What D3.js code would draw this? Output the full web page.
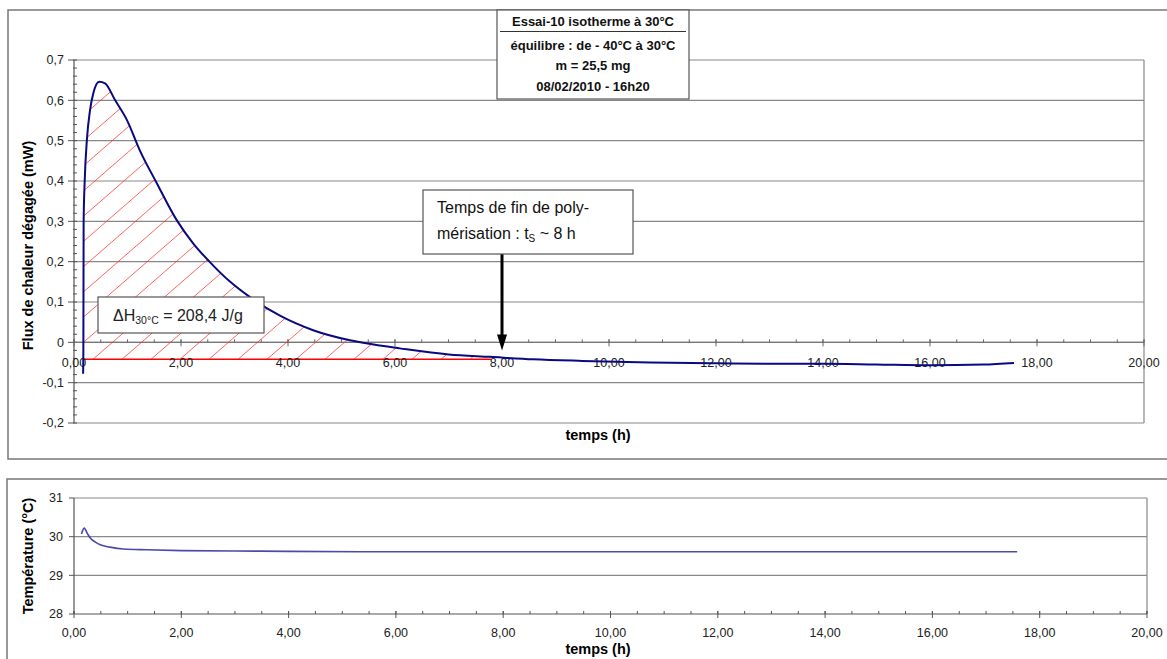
<!DOCTYPE html>
<html><head><meta charset="utf-8">
<script src="https://cdn.jsdelivr.net/npm/d3@7"></script>
<style>
body{margin:0;background:#fff;}
svg{display:block;font-family:"Liberation Sans",Arial,sans-serif;}
</style></head>
<body><svg id="c" width="1167" height="659"></svg>
<script>
// ---- data ----
const fluxTime  = [0.17,0.175,0.18,0.20,0.24,0.30,0.36,0.47,0.58,0.77,0.99,1.23,1.55,1.92,2.23,2.54,2.92,3.29,3.85,4.47,5.16,5.72,6.09,7.00,7.78,8.58,9.50,10.77,12.0,13.0,14.0,15.0,16.0,17.0,17.57];
const fluxValue = [-0.078,-0.02,0.30,0.40,0.50,0.576,0.617,0.646,0.642,0.600,0.551,0.476,0.394,0.303,0.245,0.199,0.150,0.112,0.066,0.030,0.005,-0.008,-0.015,-0.030,-0.036,-0.042,-0.046,-0.050,-0.052,-0.053,-0.053,-0.055,-0.057,-0.055,-0.051];
const tempTime  = [0.14,0.19,0.25,0.30,0.40,0.49,0.67,0.92,1.36,2.0,3.0,4.0,6.0,8.0,10.0,12.0,14.0,16.0,17.58];
const tempValue = [30.07,30.22,30.08,29.97,29.86,29.79,29.73,29.68,29.66,29.64,29.63,29.62,29.61,29.61,29.61,29.61,29.61,29.61,29.61];
const xTicks     = [0,2,4,6,8,10,12,14,16,18,20];
const fluxTicks  = [0.7,0.6,0.5,0.4,0.3,0.2,0.1,0,-0.1,-0.2];
const fluxLabels = ["0,7","0,6","0,5","0,4","0,3","0,2","0,1","0","-0,1","-0,2"];
const tempTicks  = [31,30,29,28];
const baselineValue = -0.042;
const integEnd = 7.8;
const titleLines = ["Essai-10 isotherme à 30°C","équilibre : de - 40°C à 30°C","m = 25,5 mg","08/02/2010 - 16h20"];

const loc = d3.formatLocale({decimal:",",thousands:" ",grouping:[3],currency:["","€"]});
const f2 = loc.format(".2f");

const svg = d3.select("#c");
const grid = "#888";
const frame = "#777";
const tickFont = 12.5;

// ---- frames ----
svg.append("rect").attr("x",8).attr("y",10).attr("width",1200).attr("height",449)
  .attr("fill","none").attr("stroke",frame).attr("stroke-width",1.5);
svg.append("rect").attr("x",7).attr("y",479).attr("width",1200).attr("height",300)
  .attr("fill","none").attr("stroke",frame).attr("stroke-width",1.5);

// ================= TOP CHART =================
const x1 = d3.scaleLinear([0,20],[74,1144]);
const y1 = d3.scaleLinear([-0.2,0.7],[423,60]);

const gTop = svg.append("g");
gTop.selectAll("line.g").data(fluxTicks).join("line")
  .attr("x1",x1(0)).attr("x2",x1(20)).attr("y1",d=>y1(d)).attr("y2",d=>y1(d))
  .attr("stroke",grid).attr("stroke-width",1.2);
gTop.append("line").attr("x1",x1(20)).attr("x2",x1(20)).attr("y1",y1(0.7)).attr("y2",y1(-0.2))
  .attr("stroke",grid).attr("stroke-width",1.2);

// y axis
gTop.append("line").attr("x1",x1(0)).attr("x2",x1(0)).attr("y1",y1(0.7)).attr("y2",y1(-0.2))
  .attr("stroke","#555").attr("stroke-width",1.2);
const yMinor = d3.range(-0.2,0.7001,0.02);
gTop.selectAll("line.ym").data(yMinor).join("line")
  .attr("x1",x1(0)-1).attr("x2",x1(0)+3).attr("y1",d=>y1(d)).attr("y2",d=>y1(d))
  .attr("stroke","#555");
gTop.selectAll("line.yM").data(fluxTicks).join("line")
  .attr("x1",x1(0)-6).attr("x2",x1(0)).attr("y1",d=>y1(d)).attr("y2",d=>y1(d))
  .attr("stroke","#555");
gTop.selectAll("text.yl").data(fluxTicks).join("text")
  .attr("x",x1(0)-10).attr("y",d=>y1(d)).attr("dy","0.35em")
  .attr("text-anchor","end").attr("font-size",tickFont).attr("fill","#222")
  .text((d,i)=>fluxLabels[i]);

// x axis at 0
gTop.append("line").attr("x1",x1(0)).attr("x2",x1(20)).attr("y1",y1(0)).attr("y2",y1(0))
  .attr("stroke","#777").attr("stroke-width",1.2);
const xMinor = d3.range(0,20.001,0.5);
gTop.selectAll("line.xm").data(xMinor).join("line")
  .attr("x1",d=>x1(d)).attr("x2",d=>x1(d)).attr("y1",y1(0)-3).attr("y2",y1(0))
  .attr("stroke","#666");
gTop.selectAll("line.xM").data(xTicks).join("line")
  .attr("x1",d=>x1(d)).attr("x2",d=>x1(d)).attr("y1",y1(0)-3).attr("y2",y1(0)+4)
  .attr("stroke","#666");

// hatched integration area
const pts = fluxTime.map((t,i)=>[t,fluxValue[i]]).filter(d=>d[0]<=integEnd);
const clipArea = d3.area().curve(d3.curveMonotoneX)
  .x(d=>x1(d[0])).y0(y1(baselineValue)).y1(d=>y1(Math.max(d[1],baselineValue)));
svg.append("defs").append("clipPath").attr("id","hclip")
  .append("path").attr("d",clipArea(pts));
const hg = gTop.append("g").attr("clip-path","url(#hclip)");
const by = y1(baselineValue);
const slope = 0.87, spacing = 29;
const starts = d3.range(x1(0)-400, x1(integEnd)+10, spacing).map(v=>v+13);
hg.selectAll("line").data(starts).join("line")
  .attr("x1",d=>d).attr("y1",by).attr("x2",d=>d+360).attr("y2",by-360*slope)
  .attr("stroke","#ff3030").attr("stroke-opacity",0.75).attr("stroke-width",1);
gTop.append("line").attr("x1",x1(fluxTime[0])).attr("x2",x1(integEnd))
  .attr("y1",by).attr("y2",by).attr("stroke","#ff0000").attr("stroke-width",1.5);

// x labels
gTop.selectAll("text.xl").data(xTicks).join("text")
  .attr("x",d=>x1(d)).attr("y",y1(0)+20).attr("dy","0.35em")
  .attr("text-anchor","middle").attr("font-size",tickFont).attr("fill","#222")
  .text(d=>f2(d));

// flux curve
const line1 = d3.line().curve(d3.curveMonotoneX).x((d,i)=>x1(fluxTime[i])).y(d=>y1(d));
gTop.append("path").attr("d",line1(fluxValue)).attr("fill","none")
  .attr("stroke","#0a0a80").attr("stroke-width",2);

// axis titles
gTop.append("text").attr("transform",`translate(33,${(y1(0.7)+y1(-0.2))/2+4}) rotate(-90)`)
  .attr("text-anchor","middle").attr("font-size",14.5).attr("font-weight","bold")
  .text("Flux de chaleur dégagée (mW)");
gTop.append("text").attr("x",598).attr("y",440).attr("text-anchor","middle")
  .attr("font-size",14.5).attr("font-weight","bold").text("temps (h)");

// title box
const tb = gTop.append("g");
tb.append("rect").attr("x",497).attr("y",10).attr("width",192).attr("height",89)
  .attr("fill","#fff").attr("stroke","#555").attr("stroke-width",1.2);
const tY = [26,50,70,91];
titleLines.forEach((s,i)=>{
  tb.append("text").attr("x",593).attr("y",tY[i]).attr("text-anchor","middle")
    .attr("font-size",13).attr("font-weight","bold").attr("fill","#111")
    .text(s);
});
tb.append("line").attr("x1",500).attr("x2",686).attr("y1",31.5).attr("y2",31.5).attr("stroke","#333").attr("stroke-width",1);

// annotation box + arrow
const ay = y1(-0.015);
gTop.append("line").attr("x1",x1(8)).attr("x2",x1(8)).attr("y1",254).attr("y2",ay-4)
  .attr("stroke","#000").attr("stroke-width",3);
gTop.append("path").attr("d",`M${x1(8)-5},${ay-14}L${x1(8)+5},${ay-14}L${x1(8)},${ay+2}Z`)
  .attr("fill","#000");
gTop.append("rect").attr("x",423).attr("y",190).attr("width",210).attr("height",64)
  .attr("fill","#fff").attr("stroke","#555").attr("stroke-width",1.2);
gTop.append("text").attr("x",437).attr("y",213).attr("font-size",16).attr("fill","#111")
  .text("Temps de fin de poly-");
const t2 = gTop.append("text").attr("x",437).attr("y",239).attr("font-size",16).attr("fill","#111");
t2.append("tspan").text("mérisation : t");
t2.append("tspan").attr("font-size",10).attr("dy",3).text("S");
t2.append("tspan").attr("dy",-3).text(" ~ 8 h");

// Delta H box
gTop.append("rect").attr("x",98).attr("y",297).attr("width",166).attr("height",36)
  .attr("fill","#fff").attr("stroke","#555").attr("stroke-width",1.2);
const dh = gTop.append("text").attr("x",113).attr("y",321).attr("font-size",16).attr("fill","#222");
dh.append("tspan").text("ΔH");
dh.append("tspan").attr("font-size",10.5).attr("dy",3).text("30°C");
dh.append("tspan").attr("dy",-3).text(" = 208,4 J/g");

// ================= BOTTOM CHART =================
const x2 = d3.scaleLinear([0,20],[74,1147]);
const y2 = d3.scaleLinear([28,31],[614,498]);
const gBot = svg.append("g");
gBot.selectAll("line.g").data([31,30,29]).join("line")
  .attr("x1",x2(0)).attr("x2",x2(20)).attr("y1",d=>y2(d)).attr("y2",d=>y2(d))
  .attr("stroke",grid).attr("stroke-width",1.2);
gBot.append("line").attr("x1",x2(20)).attr("x2",x2(20)).attr("y1",y2(31)).attr("y2",y2(28))
  .attr("stroke",grid).attr("stroke-width",1.2);
gBot.append("line").attr("x1",x2(0)).attr("x2",x2(0)).attr("y1",y2(31)).attr("y2",y2(28))
  .attr("stroke","#555").attr("stroke-width",1.2);
gBot.append("line").attr("x1",x2(0)).attr("x2",x2(20)).attr("y1",y2(28)).attr("y2",y2(28))
  .attr("stroke","#555").attr("stroke-width",1.2);
gBot.selectAll("line.yM").data(tempTicks).join("line")
  .attr("x1",x2(0)-5).attr("x2",x2(0)).attr("y1",d=>y2(d)).attr("y2",d=>y2(d)).attr("stroke","#555");
gBot.selectAll("text.yl").data(tempTicks).join("text")
  .attr("x",x2(0)-11).attr("y",d=>y2(d)).attr("dy","0.35em").attr("text-anchor","end")
  .attr("font-size",tickFont).attr("fill","#222").text(d=>d);
gBot.selectAll("line.xm").data(xMinor).join("line")
  .attr("x1",d=>x2(d)).attr("x2",d=>x2(d)).attr("y1",y2(28)-3).attr("y2",y2(28)).attr("stroke","#555");
gBot.selectAll("line.xM").data(xTicks).join("line")
  .attr("x1",d=>x2(d)).attr("x2",d=>x2(d)).attr("y1",y2(28)-3).attr("y2",y2(28)+4).attr("stroke","#555");
gBot.selectAll("text.xl").data(xTicks).join("text")
  .attr("x",d=>x2(d)).attr("y",y2(28)+19).attr("dy","0.35em").attr("text-anchor","middle")
  .attr("font-size",tickFont).attr("fill","#222").text(d=>f2(d));
const line2 = d3.line().curve(d3.curveMonotoneX).x((d,i)=>x2(tempTime[i])).y(d=>y2(d));
gBot.append("path").attr("d",line2(tempValue)).attr("fill","none")
  .attr("stroke","#4a4aaa").attr("stroke-width",1.6);
gBot.append("text").attr("transform",`translate(33,${(y2(31)+y2(28))/2}) rotate(-90)`)
  .attr("text-anchor","middle").attr("font-size",14.5).attr("font-weight","bold").text("Température (°C)");
gBot.append("text").attr("x",598).attr("y",654).attr("text-anchor","middle")
  .attr("font-size",14.5).attr("font-weight","bold").text("temps (h)");
</script></body></html>
